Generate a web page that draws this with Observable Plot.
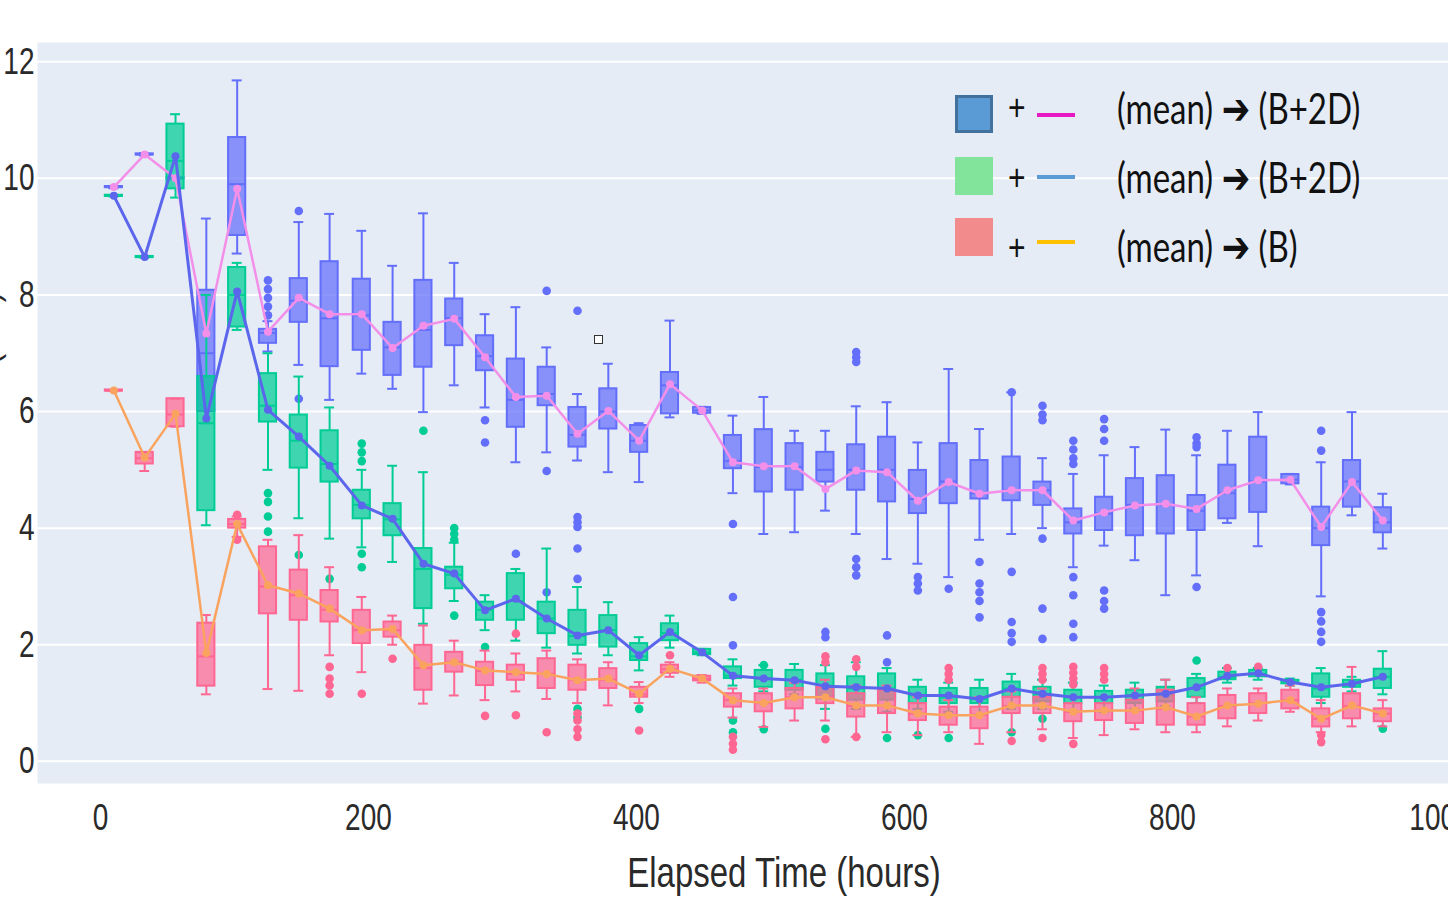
<!DOCTYPE html>
<html>
<head>
<meta charset="utf-8">
<script src="https://cdn.jsdelivr.net/npm/d3@7"></script>
<script src="https://cdn.jsdelivr.net/npm/@observablehq/plot@0.6"></script>
<style>
  html, body { margin: 0; padding: 0; background: white; overflow: hidden; }
  #wrap { position: relative; width: 1448px; height: 901px; overflow: hidden; }
  #wrap svg { display: block; overflow: hidden; }
  .sq { position: absolute; width: 38px; height: 38px; box-sizing: border-box; }
  .ln { position: absolute; width: 38px; height: 4px; }
  .pl { position: absolute; font-family: "Liberation Sans", Arial, sans-serif; font-size: 30px; line-height: 40px; height: 40px; color: #111; transform: scaleY(1.25); transform-origin: center; }
  .tx { position: absolute; font-family: Lato, "Open Sans", sans-serif; font-size: 33px; line-height: 40px; height: 40px; color: #111; white-space: pre; transform: scaleY(1.28); transform-origin: left center; }
  .tx b { font-family: "DejaVu Sans", sans-serif; font-weight: bold; font-size: 34px; }
</style>
</head>
<body>
<div id="wrap"></div>
<script>
// ---- data ----
const times = [10, 33, 56, 79, 102, 125, 148, 171, 195, 218, 241, 264, 287, 310, 333, 356, 379, 402, 425, 449, 472,
  495, 518, 541, 564, 587, 610, 633, 656, 680, 703, 726, 749, 772, 795, 818, 841, 864, 888, 911, 934, 957];
const xTicks = [0, 200, 400, 600, 800, 1000];
const yTicks = [0, 2, 4, 6, 8, 10, 12];

// Series A (blue boxes, mean -> pink line)
const aLo  = [9.83,10.39,9.98,5.8,8.71,7.03,6.8,6.2,6.65,6.39,5.99,6.45,6.07,5.13,5.3,5.16,4.96,4.79,5.9,5.96,4.6,3.9,3.93,4.3,3.9,3.47,3.39,3.16,3.8,3.9,4.0,3.33,3.7,3.45,2.85,3.19,4.09,3.69,4.75,2.83,4.22,3.65];
const aQ1  = [9.84,10.4,9.99,6.0,9.02,7.17,7.53,6.77,7.05,6.62,6.76,7.13,6.7,5.73,6.1,5.39,5.7,5.3,5.96,5.97,5.02,4.62,4.65,4.79,4.65,4.45,4.25,4.42,4.5,4.47,4.39,3.9,3.96,3.87,3.9,3.96,4.16,4.27,4.76,3.7,4.36,3.92];
const aMed = [9.85,10.41,10.0,7.0,9.9,7.35,7.9,7.6,7.65,7.1,7.4,7.6,6.95,6.2,6.3,5.6,6.0,5.5,6.45,6.02,5.15,5.05,5.05,5.0,5.0,5.0,4.5,4.8,4.6,4.65,4.65,4.1,4.25,4.4,4.4,4.3,4.6,4.8,4.83,4.0,4.8,4.1];
const aQ3  = [9.86,10.42,10.01,8.08,10.7,7.41,8.28,8.57,8.27,7.53,8.25,7.93,7.3,6.9,6.76,6.07,6.39,5.76,6.67,6.07,5.59,5.69,5.45,5.3,5.43,5.56,4.99,5.45,5.16,5.22,4.79,4.33,4.53,4.85,4.9,4.56,5.08,5.56,4.92,4.36,5.16,4.35];
const aHi  = [9.87,10.43,10.02,9.31,11.68,7.55,9.25,9.39,9.1,8.5,9.4,8.55,7.67,7.79,7.1,6.3,6.82,5.8,7.56,6.08,5.93,6.25,5.67,5.67,6.09,6.16,5.47,6.73,5.7,6.33,5.2,4.93,5.25,5.39,5.69,5.25,5.67,5.99,4.93,5.13,5.99,4.59];
const aMean= [9.85,10.41,10.0,7.34,9.82,7.37,7.95,7.67,7.67,7.09,7.47,7.59,6.93,6.25,6.27,5.62,6.01,5.5,6.47,6.02,5.13,5.06,5.06,4.67,4.99,4.96,4.47,4.79,4.59,4.65,4.65,4.13,4.27,4.39,4.42,4.33,4.65,4.82,4.83,4.02,4.79,4.13];
const aOut = [[5,8.25],[5,8.1],[5,7.95],[5,7.8],[5,7.65],[6,9.44],[6,6.22],[12,5.85],[12,5.47],[13,3.56],
  [14,8.07],[14,4.98],[14,2.9],[15,7.73],[15,4.19],[15,4.1],[15,4.02],[15,3.65],[15,3.13],[20,4.07],[20,2.82],[20,1.99],
  [23,2.22],[23,2.13],[24,7.02],[24,6.93],[24,6.85],[24,3.47],[24,3.33],[24,3.19],[25,2.16],[25,1.7],
  [26,3.16],[26,3.05],[26,2.93],[27,2.96],[28,3.42],[28,3.05],[28,2.9],[28,2.75],[28,2.47],
  [29,6.33],[29,3.25],[29,2.39],[29,2.2],[29,2.05],[30,6.1],[30,5.95],[30,5.85],[30,3.82],[30,2.62],[30,2.1],
  [31,5.5],[31,5.35],[31,5.2],[31,5.1],[31,3.16],[31,2.85],[31,2.36],[31,2.13],
  [32,5.87],[32,5.7],[32,5.5],[32,2.93],[32,2.75],[32,2.62],[35,5.56],[35,5.45],[35,5.39],[35,2.99],
  [39,5.67],[39,5.33],[39,2.56],[39,2.4],[39,2.22],[39,2.05]];

// Series B (green boxes, mean -> blue line)
const bLo  = [9.69,8.64,9.67,4.05,7.4,5.0,4.17,3.82,3.67,3.42,2.36,2.75,2.25,2.07,1.95,1.85,1.82,1.56,1.95,1.82,1.3,1.2,1.15,0.9,0.9,0.85,0.9,0.85,0.8,0.9,0.9,0.85,0.85,0.9,0.95,1.0,1.35,1.4,1.3,1.0,1.2,1.15];
const bQ1  = [9.69,8.64,9.82,4.3,7.45,5.82,5.03,4.79,4.16,3.87,2.62,2.96,2.42,2.42,2.19,1.99,1.96,1.73,2.07,1.83,1.42,1.27,1.22,1.07,1.05,1.05,0.99,0.99,0.99,1.1,1.02,0.99,0.99,0.99,1.02,1.1,1.4,1.45,1.33,1.1,1.27,1.25];
const bMed = [9.7,8.65,10.3,5.8,8.0,6.1,5.5,5.1,4.4,4.15,3.3,3.2,2.6,2.75,2.45,2.15,2.25,1.8,2.2,1.87,1.47,1.42,1.4,1.3,1.25,1.25,1.13,1.1,1.07,1.25,1.15,1.1,1.1,1.13,1.15,1.25,1.45,1.5,1.36,1.25,1.33,1.45];
const bQ3  = [9.71,8.66,10.93,6.6,8.47,6.65,5.94,5.67,4.65,4.42,3.65,3.33,2.73,3.22,2.73,2.59,2.5,2.02,2.36,1.92,1.62,1.56,1.56,1.5,1.45,1.5,1.27,1.25,1.25,1.36,1.27,1.22,1.2,1.22,1.27,1.42,1.53,1.56,1.39,1.5,1.39,1.58];
const bHi  = [9.71,8.66,11.1,8.0,8.55,7.0,6.6,6.07,5.0,5.07,4.96,3.75,2.85,3.3,3.65,2.99,2.73,2.13,2.5,1.93,1.75,1.65,1.67,1.65,1.7,1.6,1.4,1.35,1.4,1.5,1.4,1.35,1.3,1.35,1.4,1.5,1.6,1.6,1.42,1.6,1.45,1.89];
const bMean= [9.7,8.65,10.38,5.88,8.06,6.03,5.57,5.07,4.39,4.16,3.39,3.22,2.59,2.79,2.45,2.16,2.25,1.82,2.22,1.87,1.47,1.42,1.39,1.29,1.27,1.25,1.13,1.13,1.07,1.25,1.16,1.1,1.1,1.13,1.16,1.27,1.47,1.51,1.36,1.27,1.33,1.45];
const bOut = [[5,4.6],[5,4.45],[5,4.2],[5,3.94],[6,3.54],[7,3.13],[8,5.45],[8,5.3],[8,5.15],[8,3.56],[8,3.33],
  [10,5.67],[11,4.0],[11,3.9],[11,3.8],[11,2.5],[12,1.96],[15,0.9],[15,0.75],[17,0.9],[20,0.7],[20,0.5],
  [21,1.65],[21,0.55],[23,0.56],[25,0.4],[26,0.45],[27,0.4],[29,0.5],[30,0.73],[35,1.73],[41,0.56]];

// Series C (red boxes, mean -> orange line)
const cLo  = [6.35,4.98,5.74,1.15,3.85,1.24,1.21,1.82,1.53,2.0,0.99,1.13,1.05,1.2,1.07,1.0,0.96,1.0,1.45,1.35,0.75,0.59,0.7,0.7,0.42,0.5,0.45,0.5,0.3,0.5,0.55,0.4,0.45,0.55,0.5,0.5,0.6,0.7,0.85,0.5,0.6,0.6];
const cQ1  = [6.35,5.1,5.74,1.29,4.0,2.53,2.42,2.39,2.02,2.13,1.22,1.53,1.3,1.39,1.25,1.22,1.25,1.1,1.51,1.38,0.93,0.85,0.9,0.99,0.76,0.82,0.7,0.62,0.56,0.82,0.82,0.68,0.7,0.65,0.62,0.62,0.73,0.82,0.9,0.59,0.73,0.68];
const cMed = [6.36,5.2,5.95,1.8,4.07,3.0,2.85,2.6,2.25,2.25,1.6,1.7,1.55,1.5,1.5,1.4,1.4,1.15,1.58,1.42,1.05,1.0,1.1,1.1,0.95,0.95,0.82,0.8,0.8,0.95,0.95,0.85,0.87,0.87,0.9,0.77,0.95,1.0,1.05,0.73,0.95,0.82];
const cQ3  = [6.37,5.3,6.22,2.37,4.15,3.68,3.28,2.93,2.59,2.39,1.99,1.87,1.7,1.65,1.76,1.65,1.59,1.27,1.65,1.46,1.16,1.16,1.25,1.27,1.16,1.22,0.99,0.93,0.93,1.1,1.1,0.99,0.99,1.05,1.22,0.99,1.13,1.16,1.22,0.9,1.16,0.9];
const cHi  = [6.37,5.3,6.22,2.51,4.2,3.8,3.88,3.33,2.82,2.5,2.33,2.07,1.9,1.85,1.9,1.75,1.7,1.36,1.7,1.48,1.25,1.25,1.35,1.4,1.3,1.3,1.1,1.05,1.1,1.2,1.25,1.1,1.1,1.25,1.4,1.1,1.25,1.25,1.3,1.05,1.62,1.05];
const cMean= [6.36,5.21,5.96,1.86,4.07,3.02,2.88,2.62,2.25,2.27,1.65,1.7,1.56,1.53,1.5,1.39,1.42,1.16,1.59,1.42,1.05,1.0,1.1,1.1,0.96,0.96,0.82,0.79,0.79,0.96,0.96,0.85,0.87,0.87,0.93,0.77,0.96,0.99,1.05,0.73,0.96,0.82];
const cOut = [[4,4.23],[4,3.8],[7,1.62],[7,1.42],[7,1.3],[7,1.16],[8,1.16],[9,1.76],[12,0.78],[13,2.19],[13,0.79],[14,0.5],
  [15,0.82],[15,0.7],[15,0.55],[15,0.42],[17,0.53],[18,1.82],[20,0.42],[20,0.3],[20,0.2],
  [23,1.8],[23,1.7],[23,0.38],[24,1.75],[24,1.62],[24,0.42],[27,1.6],[27,1.5],[27,1.4],[29,0.35],
  [30,1.6],[30,1.5],[30,1.4],[30,0.4],[31,1.62],[31,1.52],[31,1.42],[31,1.32],[31,0.3],
  [32,1.6],[32,1.5],[32,1.4],[36,1.6],[37,1.62],[39,0.33],[39,0.45]];

const xLabel = "Elapsed Time (hours)";
const yLabel = "Thickness (mm)";
const legendRows = [
  {box: "#5B9BD5", border: "#41719C", line: "#E619C3", text: "(mean) ", target: " (B+2D)"},
  {box: "#82E39B", border: "#82E39B", line: "#5B9BD5", text: "(mean) ", target: " (B+2D)"},
  {box: "#F28B8B", border: "#F28B8B", line: "#FFC000", text: "(mean) ", target: " (B)"}
];

// ---- build ----
const seriesDefs = [
  {lo: aLo, q1: aQ1, med: aMed, q3: aQ3, hi: aHi, mean: aMean, out: aOut, color: "#636efa", lineColor: "#f48fe9", lw: 2.5},
  {lo: bLo, q1: bQ1, med: bMed, q3: bQ3, hi: bHi, mean: bMean, out: bOut, color: "#00cc96", lineColor: "#5b66ec", lw: 3},
  {lo: cLo, q1: cQ1, med: cMed, q3: cQ3, hi: cHi, mean: cMean, out: cOut, color: "#ff6692", lineColor: "#f9a35e", lw: 2.5}
];
const halfBox = 6.4, halfCap = 3.7;

const boxMarks = [];
const lineMarks = [];
for (const s of seriesDefs) {
  const rows = times.map((t, i) => ({t, lo: s.lo[i], q1: s.q1[i], med: s.med[i], q3: s.q3[i], hi: s.hi[i], mean: s.mean[i]}));
  const outs = s.out.map(([i, v]) => ({t: times[i], v}));
  boxMarks.push(
    Plot.ruleX(rows, {x: "t", y1: "lo", y2: "q1", stroke: s.color, strokeWidth: 2}),
    Plot.ruleX(rows, {x: "t", y1: "q3", y2: "hi", stroke: s.color, strokeWidth: 2}),
    Plot.ruleY(rows, {y: "lo", x1: d => d.t - halfCap, x2: d => d.t + halfCap, stroke: s.color, strokeWidth: 2}),
    Plot.ruleY(rows, {y: "hi", x1: d => d.t - halfCap, x2: d => d.t + halfCap, stroke: s.color, strokeWidth: 2}),
    Plot.rect(rows, {x1: d => d.t - halfBox, x2: d => d.t + halfBox, y1: "q1", y2: "q3", fill: s.color, fillOpacity: 0.72, stroke: s.color, strokeWidth: 2}),
    Plot.ruleY(rows, {y: "med", x1: d => d.t - halfBox, x2: d => d.t + halfBox, stroke: s.color, strokeWidth: 2}),
    Plot.dot(outs, {x: "t", y: "v", r: 4.3, fill: s.color, stroke: null})
  );
  lineMarks.push(
    Plot.line(rows, {x: "t", y: "mean", stroke: s.lineColor, strokeWidth: s.lw}),
    Plot.dot(rows, {x: "t", y: "mean", r: 4, fill: s.lineColor, stroke: null})
  );
}

const fmt = d => String(d);
const chart = Plot.plot({
  width: 1448, height: 901,
  marginLeft: 37, marginRight: 0, marginTop: 42, marginBottom: 118,
  style: {background: "white", fontFamily: "'Liberation Sans', Arial, sans-serif", color: "#2a2a2a"},
  x: {domain: [-47, 1006], label: null},
  y: {domain: [-0.38, 12.33], label: null},
  marks: [
    Plot.frame({fill: "#E5ECF6", stroke: null}),
    Plot.gridY(yTicks, {stroke: "white", strokeOpacity: 1, strokeWidth: 2}),
    ...boxMarks,
    ...lineMarks,
    Plot.axisY(yTicks, {tickSize: 0, tickPadding: 3, fontSize: 28, fill: "#2a2a2a", tickFormat: fmt}),
    Plot.axisX(xTicks, {tickSize: 0, tickPadding: 24, fontSize: 28, fill: "#2a2a2a", tickFormat: fmt}),
    Plot.text([xLabel], {frameAnchor: "bottom", dx: 41, dy: 89, lineAnchor: "middle", fontSize: 33, fill: "#2a2a2a"})
  ]
});

const wrap = document.getElementById("wrap");
wrap.appendChild(chart);

// stretch text vertically (about its own centre) to match the tall glyphs of the reference
d3.select(chart).selectAll("text").each(function () {
  const bb = this.getBBox();
  const cy = bb.y + bb.height / 2;
  const t = this.getAttribute("transform") || "";
  this.setAttribute("transform", `${t} translate(0,${cy}) scale(1,1.3) translate(0,${-cy})`.trim());
});

// partially visible rotated y-axis title at left edge
d3.select(chart).append("text")
  .attr("transform", "translate(-1,292) rotate(-90)")
  .attr("text-anchor", "end")
  .attr("font-size", 31)
  .attr("fill", "#2a2a2a")
  .text(yLabel);

// legend overlay
const rowTops = [95, 157, 218];
const plusTops = [87, 157, 227];
const lineTops = [113, 175, 240];
const textTops = [87, 156, 225];
legendRows.forEach((r, i) => {
  const sq = document.createElement("div");
  sq.className = "sq";
  sq.style.left = "955px"; sq.style.top = rowTops[i] + "px";
  sq.style.background = r.box; sq.style.border = `3px solid ${r.border}`;
  wrap.appendChild(sq);
  const pl = document.createElement("div");
  pl.className = "pl"; pl.textContent = "+";
  pl.style.left = "1008px"; pl.style.top = plusTops[i] + "px";
  wrap.appendChild(pl);
  const ln = document.createElement("div");
  ln.className = "ln"; ln.style.left = "1037px"; ln.style.top = lineTops[i] + "px"; ln.style.background = r.line;
  wrap.appendChild(ln);
  const tx = document.createElement("div");
  tx.className = "tx"; tx.style.left = "1117px"; tx.style.top = textTops[i] + "px";
  tx.append(r.text);
  const b = document.createElement("b"); b.textContent = "\u2794"; tx.append(b);
  tx.append(r.target);
  wrap.appendChild(tx);
});

// small handle square seen in the reference
const handle = document.createElement("div");
handle.style.cssText = "position:absolute;left:594px;top:335px;width:7px;height:7px;border:1.5px solid #333;background:#fff;";
wrap.appendChild(handle);
</script>
</body>
</html>
